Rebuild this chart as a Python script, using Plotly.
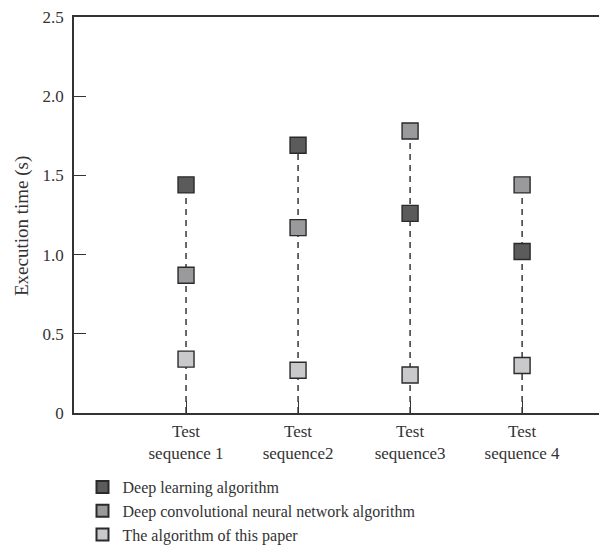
import plotly.graph_objects as go

categories = ["Test<br>sequence 1", "Test<br>sequence2", "Test<br>sequence3", "Test<br>sequence 4"]
deep_learning = [1.44, 1.69, 1.26, 1.02]
deep_cnn = [0.87, 1.17, 1.78, 1.44]
this_paper = [0.34, 0.27, 0.24, 0.30]
y_title = "Execution time (s)"

series = [
    ("Deep learning algorithm", deep_learning, "#5b5b5b"),
    ("Deep convolutional neural network algorithm", deep_cnn, "#9a9a9c"),
    ("The algorithm of this paper", this_paper, "#c9c9cc"),
]

FONT = "Liberation Serif"
TXT = "#333333"
fig = go.Figure()

# dashed stems from 0 to the highest value in each category
for i, cat in enumerate(categories):
    top = max(deep_learning[i], deep_cnn[i], this_paper[i])
    fig.add_trace(go.Scatter(
        x=[i, i], y=[0, top], mode="lines",
        line=dict(color="#1a1a1a", width=1.3, dash="6px,5px"),
        showlegend=False, hoverinfo="skip"))

for name, vals, color in series:
    fig.add_trace(go.Scatter(
        x=list(range(len(categories))), y=vals, mode="markers", name=name,
        marker=dict(symbol="square", size=16, color=color,
                    line=dict(color="#2a2a2a", width=1.4))))

fig.add_annotation(
    text=y_title, textangle=-90, xref="paper", yref="paper",
    x=-0.098, y=0.472, xanchor="center", yanchor="middle", showarrow=False,
    font=dict(family=FONT, size=19, color=TXT))

# page body adds an 8px offset, so the figure is sized 8px smaller
fig.update_layout(
    width=599, height=543,
    margin=dict(l=66, r=2, t=9, b=138, autoexpand=False),
    plot_bgcolor="white", paper_bgcolor="white",
    font=dict(family=FONT, size=16, color=TXT),
    legend=dict(x=0.016, y=-0.144, xanchor="left", yanchor="top",
                font=dict(family=FONT, size=16, color=TXT),
                itemsizing="constant", tracegroupgap=0, bgcolor="rgba(0,0,0,0)"),
    xaxis=dict(
        range=[-1, 3.74], tickmode="array", tickvals=list(range(len(categories))),
        ticktext=categories, showgrid=False, zeroline=False, automargin=False,
        showline=True, linecolor=TXT, linewidth=1.5, mirror=True,
        ticks="inside", ticklen=12, tickcolor=TXT, tickwidth=1.3,
        ticklabelstandoff=2, ticklabeloverflow="allow",
        tickfont=dict(family=FONT, size=17, color=TXT)),
    yaxis=dict(
        range=[0, 2.5], tickmode="array", tickvals=[0, 0.5, 1.0, 1.5, 2.0, 2.5],
        ticktext=["0", "0.5", "1.0", "1.5", "2.0", "2.5"],
        showgrid=False, zeroline=False, automargin=False,
        showline=True, linecolor=TXT, linewidth=1.5, mirror=True,
        ticks="inside", ticklen=12, tickcolor=TXT, tickwidth=1.3,
        ticklabelstandoff=5, ticklabeloverflow="allow",
        tickfont=dict(family=FONT, size=17, color=TXT)),
)

fig.write_html("out.html")
